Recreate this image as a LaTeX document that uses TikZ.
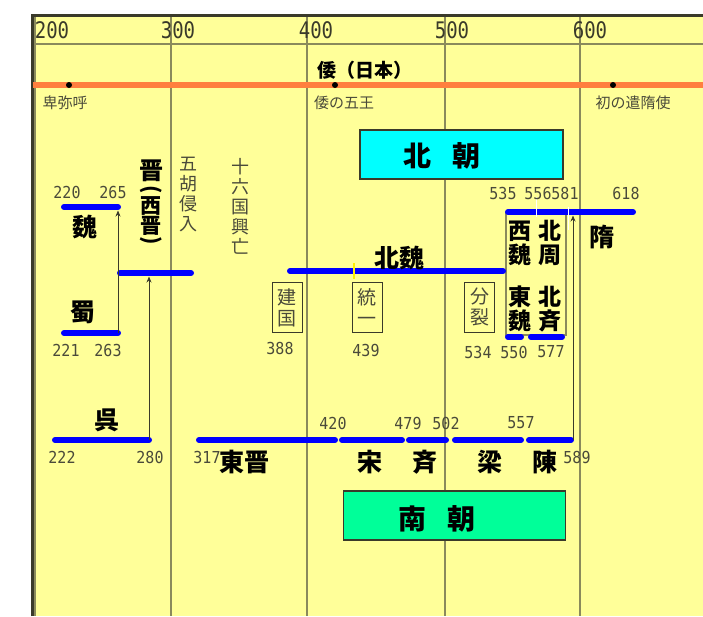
\documentclass[tikz,border=0pt]{standalone}
\usepackage{fontspec}
\usepackage{graphicx}
\newfontfamily\jp{Noto Sans CJK JP}
\newfontfamily\monofnt{DejaVu Sans Mono}
\usetikzlibrary{arrows.meta}
\definecolor{bgy}{HTML}{FFFF99}
\definecolor{gridc}{HTML}{8A8A5C}
\definecolor{darkc}{HTML}{3A3A2A}
\definecolor{barblue}{HTML}{0000FF}
\definecolor{orangec}{HTML}{FF7F3F}
\definecolor{cyanc}{HTML}{00FFFF}
\definecolor{greenc}{HTML}{00FF99}
\definecolor{txtgray}{HTML}{4A4A3A}
\newcommand\yrn[1]{\scalebox{1}[1.1]{#1}}
\newcommand\axn[1]{\scalebox{1}[1.2]{#1}}
\tikzset{
  bar/.style={barblue, line width=6pt, line cap=round},
  gridline/.style={gridc, line width=2pt},
  num/.style={font=\monofnt\fontsize{15}{15}\selectfont, text=txtgray, inner sep=0pt},
  axisnum/.style={font=\monofnt\fontsize{19}{19}\selectfont, text=darkc, inner sep=0pt},
  big/.style={font=\jp\bfseries\fontsize{25}{26}\selectfont, inner sep=0pt},
  small/.style={font=\jp\fontsize{15}{15}\selectfont, text=txtgray, inner sep=0pt},
  vtext/.style={font=\jp\fontsize{18}{20}\selectfont, text=txtgray, align=center, inner sep=0pt},
  boxlab/.style={draw=darkc, line width=1pt, font=\jp\fontsize{19}{21}\selectfont, align=center, minimum width=30pt, minimum height=50pt, inner sep=0pt, text=txtgray},
  pairlab/.style={font=\jp\bfseries\fontsize{23}{24}\selectfont, align=center, inner sep=0pt},
  shinch/.style={font=\jp\bfseries\fontsize{21}{21}\selectfont, inner sep=0pt},
  shinpar/.style={font=\jp\bfseries\fontsize{21}{21}\selectfont, inner sep=0pt, rotate=-90},
  arr/.style={darkc, line width=1pt, -{Stealth[length=6pt,width=5pt]}},
  dotn/.style={circle, fill=black, minimum size=6pt, inner sep=0pt},
  periodbox/.style={draw=darkc, line width=1.2pt, inner sep=0pt}
}
\begin{document}
\begin{tikzpicture}[x=1pt,y=-1pt]
\useasboundingbox (0,0) rectangle (703,616);
\fill[white] (0,0) rectangle (703,616);
\fill[bgy] (33,15) rectangle (703,616);
% grid
\foreach \gx in {35,171,307,445,580} \draw[gridline] (\gx,15) -- (\gx,616);
\draw[gridline] (33,44) -- (703,44);
\draw[darkc, line width=2.5pt] (32.5,616) -- (32.5,15.5) -- (703,15.5);
% axis labels
\node[axisnum] (a200) at (52,30) {\axn{200}};
\node[axisnum] (a300) at (178,30) {\axn{300}};
\node[axisnum] (a400) at (316,30) {\axn{400}};
\node[axisnum] (a500) at (452,30) {\axn{500}};
\node[axisnum] (a600) at (590,30) {\axn{600}};
% Japan line
\draw[orangec, line width=6pt] (33,85) -- (703,85);
\node[dotn] (d1) at (69,85) {};
\node[dotn] (d2) at (335,85) {};
\node[dotn] (d3) at (613,85) {};
\node[font=\jp\bfseries\fontsize{19}{19}\selectfont, inner sep=0pt] (wa) at (365,70) {倭（日本）};
\node[small] (himiko) at (65,103) {卑弥呼};
\node[small] (wago) at (344,103) {倭の五王};
\node[small] (kenzui) at (633,103) {初の遣隋使};
% period boxes
\node[periodbox, fill=cyanc, minimum width=203pt, minimum height=49pt] (hokuchobox) at (461.5,154.5) {};
\node[font=\jp\bfseries\fontsize{28}{28}\selectfont, inner sep=0pt] (hokucho) at (442,156) {北\hspace{22pt}朝};
\node[periodbox, fill=greenc, minimum width=222pt, minimum height=49pt] (nanchobox) at (454.5,515.5) {};
\node[font=\jp\bfseries\fontsize{28}{28}\selectfont, inner sep=0pt] (nancho) at (437,519) {南\hspace{22pt}朝};
% box around Western/Eastern Wei group
\draw[gridc, line width=1.2pt] (506,213) rectangle (566,335);
% bars
\coordinate (giL) at (64,207); \coordinate (giR) at (118,207);
\coordinate (shL) at (64,333); \coordinate (shR) at (118,333);
\coordinate (shinL) at (120,273); \coordinate (shinR) at (191,273);
\coordinate (goL) at (55,440); \coordinate (goR) at (149,440);
\draw[bar] (giL) -- (giR);
\draw[bar] (shL) -- (shR);
\draw[bar] (shinL) -- (shinR);
\draw[bar] (goL) -- (goR);
\draw[bar] (199,440) -- (335,440);
\draw[bar] (342,440) -- (402,440);
\draw[bar] (409,440) -- (446,440);
\draw[bar] (455,440) -- (521,440);
\draw[bar] (529,440) -- (571,440);
\draw[bar] (290,271) -- (503,271);
\draw[bar] (508,212) -- (633,212);
\draw[bar] (508,337) -- (521,337);
\draw[bar] (531,337) -- (562,337);
% small marks
\draw[yellow, line width=2pt] (354,263) -- (354,279);
\draw[white, line width=1pt] (536,197) -- (536,217);
\draw[white, line width=1pt] (568,207) -- (568,230);
% arrows
\coordinate (shUp) at (118,210.5);
\coordinate (goUp) at (149,276.5);
\coordinate (chinE) at (573,440);
\coordinate (zuiUp) at (573,215.5);
\draw[arr] (shR) -- (shUp);
\draw[arr] (goR) -- (goUp);
\draw[arr] (chinE) -- (zuiUp);
% numbers
\node[num] (n220) at (67,192) {\yrn{220}};
\node[num] (n265) at (113,192) {\yrn{265}};
\node[num] (n221) at (66,350) {\yrn{221}};
\node[num] (n263) at (108,350) {\yrn{263}};
\node[num] (n222) at (62,457) {\yrn{222}};
\node[num] (n280) at (150,457) {\yrn{280}};
\node[num] (n317) at (207,457) {\yrn{317}};
\node[num] (n420) at (333,423) {\yrn{420}};
\node[num] (n479) at (408,423) {\yrn{479}};
\node[num] (n502) at (446,423) {\yrn{502}};
\node[num] (n557) at (521,423) {\yrn{557}};
\node[num] (n589) at (577,457) {\yrn{589}};
\node[num] (n388) at (280,348) {\yrn{388}};
\node[num] (n439) at (366,350) {\yrn{439}};
\node[num] (n534) at (478,352) {\yrn{534}};
\node[num] (n550) at (514,352) {\yrn{550}};
\node[num] (n577) at (551,352) {\yrn{577}};
\node[num] (n535) at (503,193) {\yrn{535}};
\node[num] (n556) at (538,193) {\yrn{556}};
\node[num] (n581) at (565,193) {\yrn{581}};
\node[num] (n618) at (626,193) {\yrn{618}};
% dynasty labels
\node[big] (gi) at (85,227) {魏};
\node[big] (shoku) at (83,312) {蜀};
\node[big] (go) at (107,420) {呉};
\node[font=\jp\bfseries\fontsize{24}{24}\selectfont, inner sep=0pt] (shin1) at (151,171) {晋};
\node[shinpar, anchor=center] (shinpL) at (151,190) {(};
\node[shinch] (shin2) at (151,206) {西};
\node[shinch] (shin3) at (151,226) {晋};
\node[shinpar, anchor=center] (shinpR) at (151,241) {)};
\node[vtext] (goko) at (188,195) {五\\胡\\侵\\入};
\node[vtext] (juroku) at (240,206) {十\\六\\国\\興\\亡};
\node[boxlab] (kenkoku) at (287,307.5) {建\\国};
\node[boxlab] (toitsu) at (367,307.5) {統\\一};
\node[boxlab] (bunretsu) at (479.5,307) {分\\裂};
\node[big] (hokugi) at (399,258) {北魏};
\node[big] (zui) at (602,237) {隋};
\node[big] (toshin) at (244,462) {東晋};
\node[big] (so) at (370,462) {宋};
\node[big] (sei) at (425,462) {斉};
\node[big] (ryo) at (490,462) {梁};
\node[big] (chin) at (545,462) {陳};
\node[pairlab] (seigi) at (520,243) {西\\魏};
\node[pairlab] (togi) at (520,309) {東\\魏};
\node[pairlab] (hokushu) at (550,243) {北\\周};
\node[pairlab] (hokusei) at (550,309) {北\\斉};
\end{tikzpicture}
\end{document}
